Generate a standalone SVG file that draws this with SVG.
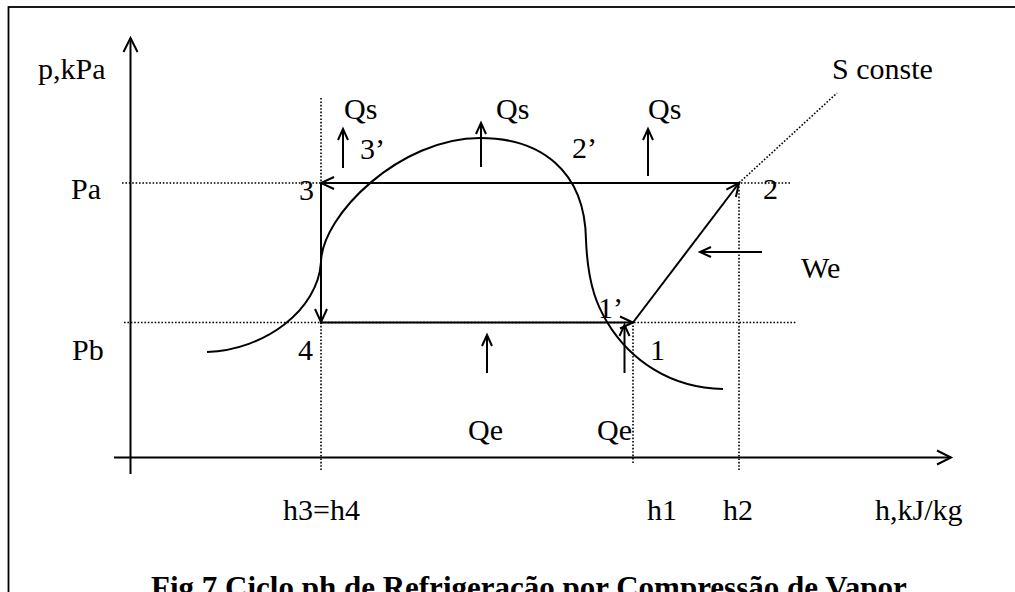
<svg xmlns="http://www.w3.org/2000/svg" width="1015" height="592" viewBox="0 0 1015 592">
<style>
  text { font-family: "Liberation Serif", "Times New Roman", serif; font-size: 30px; fill: #000; }
  .title { font-weight: bold; font-size: 31px; }
  .solid { stroke: #000; stroke-width: 2; fill: none; }
  .dot { stroke: #000; stroke-width: 1.6; stroke-dasharray: 1.6 1.8; fill: none; }
  .heat { stroke: #000; stroke-width: 2; fill: none; marker-end: url(#small); }
</style>
<defs>
  <marker id="big" markerUnits="userSpaceOnUse" markerWidth="20" markerHeight="20" viewBox="-16 -10 20 20" refX="0" refY="0" orient="auto" overflow="visible">
    <path d="M-14,-7 L0,0 L-14,7" fill="none" stroke="#000" stroke-width="2"/>
  </marker>
  <marker id="mid" markerUnits="userSpaceOnUse" markerWidth="20" markerHeight="20" viewBox="-16 -10 20 20" refX="0" refY="0" orient="auto" overflow="visible">
    <path d="M-13,-6 L0,0 L-13,6" fill="none" stroke="#000" stroke-width="2"/>
  </marker>
  <marker id="small" markerUnits="userSpaceOnUse" markerWidth="20" markerHeight="20" viewBox="-16 -10 20 20" refX="0" refY="0" orient="auto" overflow="visible">
    <path d="M-11,-5 L0,0 L-11,5" fill="none" stroke="#000" stroke-width="2"/>
  </marker>
</defs>
<rect x="0" y="0" width="1015" height="592" fill="#fff"/>
<rect id="frame" x="8.5" y="7" width="1100" height="700" fill="none" stroke="#000" stroke-width="1.8"/>

<g id="axes">
  <line class="solid" x1="130.5" y1="474" x2="130.5" y2="38" marker-end="url(#big)"/>
  <line class="solid" x1="114" y1="457.5" x2="951" y2="457.5" marker-end="url(#big)"/>
</g>

<g id="guides">
  <line class="dot" x1="122" y1="183" x2="790" y2="183"/>
  <line class="dot" x1="124" y1="322.5" x2="797" y2="322.5"/>
  <line class="dot" x1="321" y1="98" x2="321" y2="470"/>
  <line class="dot" x1="633" y1="322" x2="633" y2="464"/>
  <line class="dot" x1="739" y1="183" x2="739" y2="470"/>
  <line class="dot" x1="739" y1="183" x2="837" y2="93"/>
</g>

<g id="saturation-curve">
  <path class="solid" d="M207,352 C265,350 318,310 321,262 C322,215 400,138 480,138 C540,138 585,170 586,240 C588,290 600,310 607,322 C630,360 670,388 723,389"/>
</g>

<g id="connectors">
  <line id="c-2-3" class="solid" x1="739" y1="183" x2="321" y2="183" marker-end="url(#mid)"/>
  <line id="c-3-4" class="solid" x1="321" y1="183" x2="321" y2="322" marker-end="url(#mid)"/>
  <line id="c-4-1" class="solid" x1="321" y1="322.5" x2="633" y2="322.5" marker-end="url(#mid)"/>
  <line id="c-1-2" class="solid" x1="633" y1="322.5" x2="739" y2="183" marker-end="url(#mid)"/>
</g>

<g id="heat-arrows">
  <line class="heat" x1="343" y1="168" x2="343" y2="129"/>
  <line class="heat" x1="481" y1="167" x2="481" y2="123"/>
  <line class="heat" x1="648" y1="176" x2="648" y2="129"/>
  <line class="heat" x1="762" y1="252" x2="700" y2="252"/>
  <line class="heat" x1="487" y1="373" x2="487" y2="335"/>
  <line class="heat" x1="624.5" y1="373" x2="624.5" y2="325"/>
</g>

<g id="labels">
  <text x="38" y="79">p,kPa</text>
  <text x="71" y="199">Pa</text>
  <text x="72" y="360">Pb</text>
  <text x="299" y="200">3</text>
  <text x="298" y="360">4</text>
  <text x="360" y="159">3’</text>
  <text x="572" y="158">2’</text>
  <text x="763" y="199">2</text>
  <text x="344" y="119">Qs</text>
  <text x="496" y="119">Qs</text>
  <text x="648" y="119">Qs</text>
  <text x="832" y="79">S conste</text>
  <text x="801" y="278">We</text>
  <text x="598" y="318">1’</text>
  <text x="650" y="360">1</text>
  <text x="468" y="440">Qe</text>
  <text x="597" y="440">Qe</text>
  <text x="283" y="520">h3=h4</text>
  <text x="647" y="520">h1</text>
  <text x="723" y="520">h2</text>
  <text x="875" y="520">h,kJ/kg</text>
  <text class="title" x="151" y="598">Fig 7 Ciclo ph de Refrigeração por Compressão de Vapor</text>
</g>
</svg>
